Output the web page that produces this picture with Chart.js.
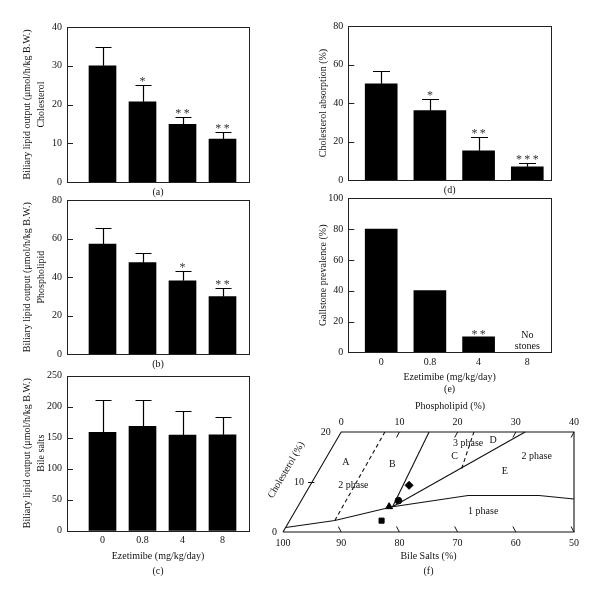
<!DOCTYPE html>
<html><head><meta charset="utf-8">
<script src="https://cdn.jsdelivr.net/npm/chart.js@4.4.1/dist/chart.umd.min.js"></script>
<style>
html,body{margin:0;padding:0;background:#fff;}
#wrap{position:relative;width:600px;height:597px;overflow:hidden;background:#fff;}
canvas{position:absolute;}
</style></head><body>
<div id="wrap">
<canvas id="ca" width="300" height="200" style="left:0;top:0"></canvas>
<canvas id="cb" width="300" height="185" style="left:0;top:186px"></canvas>
<canvas id="cc" width="300" height="218" style="left:0;top:362px"></canvas>
<canvas id="cd" width="300" height="200" style="left:300px;top:0"></canvas>
<canvas id="ce" width="300" height="210" style="left:300px;top:186px"></canvas>
<canvas id="cf" width="345" height="202" style="left:255px;top:395px"></canvas>
</div>
<script>
// ---------- data ----------
const doses = ['0', '0.8', '4', '8'];

// (a) biliary cholesterol output
const cholOut = [30.0, 20.7, 14.9, 11.1];
const cholOutErr = [4.9, 4.3, 2.0, 1.9];
const cholOutSig = ['', '*', '**', '**'];
// (b) biliary phospholipid output
const plOut = [57.2, 47.5, 38.1, 29.9];
const plOutErr = [8.4, 4.8, 5.1, 4.6];
const plOutSig = ['', '', '*', '**'];
// (c) biliary bile salt output
const bsOut = [158.7, 168.4, 154.3, 154.8];
const bsOutErr = [52.1, 41.9, 38.3, 28.2];
// (d) cholesterol absorption
const cholAbs = [50.0, 36.0, 15.2, 6.9];
const cholAbsErr = [6.8, 5.9, 7.3, 1.9];
const cholAbsSig = ['', '*', '**', '***'];
// (e) gallstone prevalence
const gallstone = [80, 40, 10, 0];
const gallstoneSig = ['', '', '**', ''];
const gallstoneNote = ['', '', '', 'No|stones'];

// (f) phase diagram (cholesterol %, phospholipid %)
const bileTicks = [100, 90, 80, 70, 60, 50];
const plTicks = [0, 10, 20, 30, 40];
const cholTicks = [0, 10, 20];
const frameChol = [0, 20, 20, 0, 0];
const framePl = [0, 0, 40, 50, 0];
const onePhaseChol = [0.9, 2.3, 5.06, 7.3, 7.3, 6.6];
const onePhasePl = [0, 7.75, 16.3, 28.15, 40.35, 46.7];
const abChol = [2.3, 20];
const abPl = [7.75, 7.5];
const bcChol = [5.06, 20];
const bcPl = [16.3, 15.1];
const deChol = [5.06, 20];
const dePl = [16.3, 31.6];
const cdChol = [12.7, 20];
const cdPl = [24.35, 22.8];
const bileChol = [2.27, 5.07, 6.27, 9.33];
const bilePl = [15.8, 15.7, 16.7, 17.0];
const regionText = ['A', '2 phase', 'B', '3 phase', 'D', 'C', '2 phase', 'E', '1 phase'];

// ---------- helpers ----------
Chart.defaults.font.family = "'Liberation Serif', 'Times New Roman', serif";
Chart.defaults.font.size = 10;
Chart.defaults.color = '#111';

const tern = (c, p) => ({ x: p + c / 2, y: c });
const ternLine = (cs, ps) => cs.map((c, i) => tern(c, ps[i]));

const barDeco = {
  id: 'barDeco',
  afterDatasetsDraw(chart, args, o) {
    const { ctx, chartArea: a, scales: { y } } = chart;
    const meta = chart.getDatasetMeta(0);
    const vals = chart.data.datasets[0].data;
    ctx.save();
    ctx.strokeStyle = '#000';
    ctx.lineWidth = 1.2;
    meta.data.forEach((bar, i) => {
      const v = vals[i].y;
      const e = o.err ? o.err[i] : 0;
      const x = Math.round(bar.x) + 0.5;
      let top = bar.y;
      if (e) {
        const yt = Math.round(y.getPixelForValue(v + e)) + 0.5;
        ctx.beginPath();
        ctx.moveTo(x, bar.y); ctx.lineTo(x, yt);
        ctx.moveTo(x - o.cap / 2, yt); ctx.lineTo(x + o.cap / 2, yt);
        ctx.stroke();
        top = yt;
      }
      if (o.sig && o.sig[i]) {
        ctx.fillStyle = '#333';
        ctx.font = "12px 'Liberation Serif'";
        ctx.textAlign = 'center';
        ctx.textBaseline = 'alphabetic';
        ctx.fillText(o.sig[i].split('').join('\u2009'), bar.x, top + (e ? -0.5 : 0.6));
      }
      if (o.note && o.note[i]) {
        ctx.fillStyle = '#111';
        ctx.font = "10px 'Liberation Serif'";
        ctx.textAlign = 'center';
        ctx.textBaseline = 'middle';
        const lines = o.note[i].split('|');
        lines.forEach((t, k) => ctx.fillText(t, bar.x, bar.y - 17 + k * 11));
      }
    });
    // frame + inward ticks
    ctx.strokeStyle = '#222';
    ctx.lineWidth = 1;
    ctx.strokeRect(Math.round(a.left) + 0.5, Math.round(a.top) + 0.5,
      Math.round(a.right) - Math.round(a.left), Math.round(a.bottom) - Math.round(a.top));
    ctx.beginPath();
    y.ticks.forEach(t => {
      const py = Math.round(y.getPixelForValue(t.value)) + 0.5;
      ctx.moveTo(a.left, py); ctx.lineTo(a.left + 6, py);
    });
    ctx.stroke();
    ctx.restore();
  }
};

function makeBar(id, s) {
  return new Chart(document.getElementById(id), {
    type: 'bar',
    data: {
      datasets: [{
        data: s.values.map((v, i) => ({ x: i, y: v })),
        backgroundColor: '#000',
        borderWidth: 0,
        barThickness: s.barW
      }]
    },
    plugins: [barDeco],
    options: {
      responsive: false,
      animation: false,
      devicePixelRatio: 1,
      events: [],
      layout: { padding: { top: s.padTop, right: s.padRight, left: 0, bottom: 0 } },
      plugins: {
        legend: { display: false },
        tooltip: { enabled: false },
        barDeco: { err: s.err, sig: s.sig, note: s.note, cap: s.cap }
      },
      scales: {
        x: {
          type: 'linear',
          min: s.xMin, max: s.xMax,
          offset: false,
          grid: { display: false, drawTicks: false },
          border: { display: false },
          afterBuildTicks: sc => { sc.ticks = doses.map((d, i) => ({ value: i })); },
          ticks: { display: !!s.showX, padding: 4, callback: v => doses[v] },
          afterFit: sc => { sc.height = s.xHeight; },
          title: {
            display: true, text: s.xTitle,
            font: { size: 10, lineHeight: s.xLH },
            padding: { top: 0, bottom: s.xPB }
          }
        },
        y: {
          min: 0, max: s.yMax,
          grid: { display: false, drawTicks: false },
          border: { display: false },
          ticks: { stepSize: s.yStep, padding: 5 },
          afterFit: sc => { sc.width = s.yWidth; },
          title: {
            display: true, text: s.yTitle,
            font: { size: 10, lineHeight: 1.4 },
            padding: { top: s.yPT, bottom: 0 }
          }
        }
      }
    }
  });
}

const abcX = { xMin: -0.8875, xMax: 3.6625, barW: 27, cap: 16, padRight: 51, yWidth: 67, yPT: 20 };
const deX = { xMin: -0.6756, xMax: 3.487, barW: 32, cap: 17, padRight: 49, yWidth: 48.3, yPT: 16.3 };

makeBar('ca', Object.assign({}, abcX, {
  values: cholOut, err: cholOutErr, sig: cholOutSig, yMax: 40, yStep: 10,
  padTop: 27, xHeight: 18, xTitle: '(a)', xLH: 1.4, xPB: 1,
  yTitle: ['Biliary lipid output (\u03bcmol/h/kg B.W.)', 'Cholesterol']
}));
makeBar('cb', Object.assign({}, abcX, {
  values: plOut, err: plOutErr, sig: plOutSig, yMax: 80, yStep: 20,
  padTop: 14, xHeight: 16.7, xTitle: '(b)', xLH: 1.4, xPB: 0,
  yTitle: ['Biliary lipid output (\u03bcmol/h/kg B.W.)', 'Phospholipid']
}));
makeBar('cc', Object.assign({}, abcX, {
  values: bsOut, err: bsOutErr, yMax: 250, yStep: 50, showX: true,
  padTop: 13.7, xHeight: 49.3, xTitle: ['Ezetimibe (mg/kg/day)', '(c)'], xLH: 1.5, xPB: 1.5,
  yTitle: ['Biliary lipid output (\u03bcmol/h/kg B.W.)', 'Bile salts']
}));
makeBar('cd', Object.assign({}, deX, {
  values: cholAbs, err: cholAbsErr, sig: cholAbsSig, yMax: 80, yStep: 20,
  padTop: 26, xHeight: 20, xTitle: '(d)', xLH: 1.4, xPB: 3,
  yTitle: 'Cholesterol absorption (%)'
}));
makeBar('ce', Object.assign({}, deX, {
  values: gallstone, sig: gallstoneSig, note: gallstoneNote, yMax: 100, yStep: 20, showX: true,
  padTop: 12.3, xHeight: 43.7, xTitle: ['Ezetimibe (mg/kg/day)', '(e)'], xLH: 1.25, xPB: 0,
  yTitle: 'Gallstone prevalence (%)'
}));

// ---------- (f) phase diagram ----------
const phaseDeco = {
  id: 'phaseDeco',
  afterDatasetsDraw(chart, args, o) {
    const { ctx, chartArea: a, scales: { x, y } } = chart;
    const P = (xx, yy) => [x.getPixelForValue(xx), y.getPixelForValue(yy)];
    ctx.save();
    ctx.strokeStyle = '#111';
    ctx.lineWidth = 1;
    ctx.beginPath();
    bileTicks.forEach(b => {
      const X = 100 - b;
      if (X <= 0) return;
      const p1 = P(X, 0), p2 = P(X - 0.5, 1.1);
      ctx.moveTo(p1[0], p1[1]); ctx.lineTo(p2[0], p2[1]);
    });
    plTicks.forEach(p => {
      if (p <= 0) return;
      const X = p + 10;
      const p1 = P(X, 20), p2 = P(X - 0.5, 18.9);
      ctx.moveTo(p1[0], p1[1]); ctx.lineTo(p2[0], p2[1]);
    });
    {
      const p1 = P(4.3, 10), p2 = P(5.4, 10);
      ctx.moveTo(p1[0], Math.round(p1[1]) + 0.5); ctx.lineTo(p2[0], Math.round(p2[1]) + 0.5);
    }
    ctx.stroke();
    ctx.fillStyle = '#111';
    ctx.font = "10px 'Liberation Serif'";
    ctx.textBaseline = 'middle';
    ctx.textAlign = 'right';
    const gaps = { 0: 6, 10: 8, 20: 10.5 };
    cholTicks.forEach(c => {
      const p = P(c / 2, c);
      ctx.fillText(String(c), p[0] - gaps[c], p[1]);
    });
    ctx.textAlign = 'center';
    o.labels.forEach((t, i) => {
      const p = P(o.pos[i][0], o.pos[i][1]);
      ctx.fillText(t, p[0], p[1]);
    });
    // top axis title
    const pt = P(28.7, 20);
    ctx.fillText('Phospholipid (%)', pt[0], a.top - 26);
    // slanted cholesterol title
    const e0 = P(0, 0), e1 = P(10, 20);
    const ang = Math.atan2(e1[1] - e0[1], e1[0] - e0[0]);
    const pc = P(6.2, 12.4);
    ctx.translate(pc[0] - 32.7, pc[1]);
    ctx.rotate(ang);
    ctx.fillText('Cholesterol (%)', 0, 0);
    ctx.restore();
  }
};

const lineDs = (cs, ps, dash) => ({
  data: ternLine(cs, ps), showLine: true, pointRadius: 0, borderColor: '#111',
  borderWidth: 1.1, borderDash: dash || [], fill: false, tension: 0, clip: false
});
const markDs = (i, style, r) => ({
  data: [tern(bileChol[i], bilePl[i])], showLine: false, pointStyle: style,
  pointRadius: r, backgroundColor: '#000', borderColor: '#000', borderWidth: 1, clip: false
});

new Chart(document.getElementById('cf'), {
  type: 'scatter',
  data: {
    datasets: [
      lineDs(frameChol, framePl),
      lineDs(onePhaseChol, onePhasePl),
      lineDs(abChol, abPl, [4, 3]),
      lineDs(bcChol, bcPl),
      lineDs(deChol, dePl),
      lineDs(cdChol, cdPl, [4, 3]),
      markDs(0, 'rect', 3.6),
      markDs(1, 'triangle', 4),
      markDs(2, 'circle', 3.3),
      markDs(3, 'rectRot', 4)
    ]
  },
  plugins: [phaseDeco],
  options: {
    responsive: false,
    animation: false,
    devicePixelRatio: 1,
    events: [],
    layout: { padding: { left: 28, right: 26, top: 0, bottom: 0 } },
    plugins: {
      legend: { display: false },
      tooltip: { enabled: false },
      phaseDeco: {
        labels: regionText,
        pos: [[10.8, 13.9], [12.1, 9.3], [18.8, 13.5], [31.8, 17.8], [36.1, 18.3],
              [29.5, 15.1], [43.6, 15.1], [38.1, 12.1], [34.4, 4.1]]
      }
    },
    scales: {
      x: {
        type: 'linear', position: 'bottom', min: 0, max: 50,
        grid: { display: false, drawTicks: false },
        border: { display: false },
        afterBuildTicks: sc => { sc.ticks = bileTicks.map(b => ({ value: 100 - b })); },
        ticks: { padding: 5, callback: v => String(100 - v) },
        afterFit: sc => { sc.height = 65; },
        title: {
          display: true, text: ['Bile Salts (%)', '(f)'],
          font: { size: 10, lineHeight: 1.5 },
          padding: { top: 0, bottom: 18 }
        }
      },
      x2: {
        type: 'linear', position: 'top', axis: 'x', min: -10, max: 40,
        grid: { display: false, drawTicks: false },
        border: { display: false },
        afterBuildTicks: sc => { sc.ticks = plTicks.map(p => ({ value: p })); },
        ticks: { padding: 4, callback: v => String(v) },
        afterFit: sc => { sc.height = 37; }
      },
      y: { type: 'linear', min: 0, max: 20, display: false }
    }
  }
});
</script>
</body></html>
